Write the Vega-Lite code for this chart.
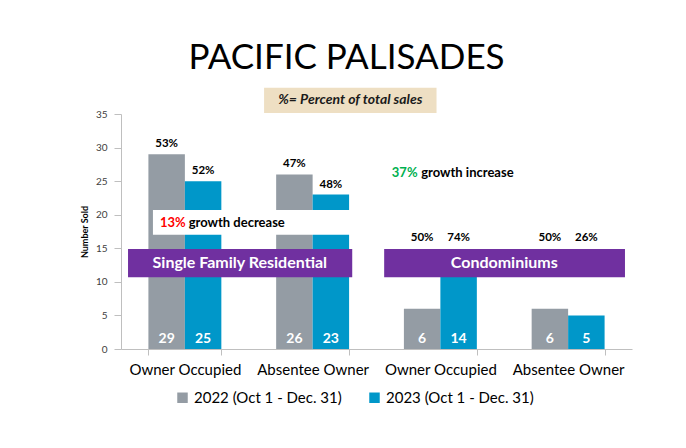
{
  "$schema": "https://vega.github.io/schema/vega-lite/v6.json",
  "width": 511,
  "height": 235,
  "autosize": {"type": "none"},
  "padding": {"left": 121, "top": 114, "right": 54, "bottom": 99},
  "background": "white",
  "config": {
    "font": "Lato",
    "view": {"stroke": null},
    "axisY": {
      "titleFontSize": 9,
      "titleFontWeight": "bold",
      "titleColor": "black",
      "titlePadding": 6,
      "tickCount": 7,
      "labelOverlap": false,
      "labelFlush": false,
      "grid": false,
      "labelFontSize": 10,
      "labelColor": "#404040",
      "labelPadding": 7,
      "tickSize": 7,
      "tickColor": "#bfbfbf",
      "domainColor": "#bfbfbf"
    }
  },
  "title": {
    "text": "PACIFIC PALISADES",
    "font": "Lato",
    "fontSize": 35,
    "fontWeight": "normal",
    "color": "black",
    "anchor": "middle",
    "frame": "group",
    "dx": -30,
    "offset": 12
  },
  "datasets": {
    "bars": [
      {"cat": "SFR|Owner Occupied", "year": "2022 (Oct 1 - Dec. 31)", "n": 29, "pct": "53%"},
      {"cat": "SFR|Owner Occupied", "year": "2023 (Oct 1 - Dec. 31)", "n": 25, "pct": "52%"},
      {"cat": "SFR|Absentee Owner", "year": "2022 (Oct 1 - Dec. 31)", "n": 26, "pct": "47%"},
      {"cat": "SFR|Absentee Owner", "year": "2023 (Oct 1 - Dec. 31)", "n": 23, "pct": "48%"},
      {"cat": "Condo|Owner Occupied", "year": "2022 (Oct 1 - Dec. 31)", "n": 6, "pct": "50%"},
      {"cat": "Condo|Owner Occupied", "year": "2023 (Oct 1 - Dec. 31)", "n": 14, "pct": "74%"},
      {"cat": "Condo|Absentee Owner", "year": "2022 (Oct 1 - Dec. 31)", "n": 6, "pct": "50%"},
      {"cat": "Condo|Absentee Owner", "year": "2023 (Oct 1 - Dec. 31)", "n": 5, "pct": "26%"}
    ],
    "boxes": [
      {"name": "note", "x0": 1.12, "x1": 2.47, "y0": 35.15, "y1": 38.9, "kind": "beige"},
      {"name": "decrease", "x0": 0.25, "x1": 1.8, "y0": 17.0, "y1": 20.7, "kind": "white"},
      {"name": "SFR", "x0": 0.055, "x1": 1.81, "y0": 10.7, "y1": 14.9, "kind": "purple"},
      {"name": "Condo", "x0": 2.06, "x1": 3.945, "y0": 10.7, "y1": 14.9, "kind": "purple"}
    ],
    "bandTitles": [
      {"label": "Single Family Residential", "x": 0.93, "y": 12.8},
      {"label": "Condominiums", "x": 3.0, "y": 12.8}
    ],
    "noteTitle": [
      {"label": "%= Percent of total sales", "x": 1.795, "y": 37.05}
    ],
    "growth": [
      {"label": "13%", "x": 0.305, "y": 18.8, "kind": "red"},
      {"label": "growth decrease", "x": 0.53, "y": 18.8, "kind": "plain"},
      {"label": "37%", "x": 2.12, "y": 26.2, "kind": "green"},
      {"label": "growth increase", "x": 2.35, "y": 26.2, "kind": "plain"}
    ]
  },
  "resolve": {"scale": {"x": "independent", "xOffset": "independent", "color": "independent"}, "axis": {"x": "independent"}},
  "layer": [
    {
      "data": {"name": "bars"},
      "mark": {"type": "bar"},
      "encoding": {
        "x": {
          "field": "cat", "type": "nominal", "sort": null,
          "scale": {"type": "band", "paddingInner": 0.429, "paddingOuter": 0.2145},
          "axis": {
            "title": null,
            "labelExpr": "split(datum.value, '|')[1]",
            "labelAngle": 0,
            "labelFontSize": 15,
            "labelColor": "black",
            "labelPadding": 7,
            "tickBand": "extent",
            "tickSize": 6,
            "tickColor": "#bfbfbf",
            "domainColor": "#bfbfbf"
          }
        },
        "xOffset": {"field": "year", "type": "nominal", "scale": {"type": "band", "paddingInner": 0, "paddingOuter": 0}},
        "y": {
          "field": "n", "type": "quantitative", "title": "Number Sold",
          "scale": {"domain": [0, 35], "nice": false}
        },
        "color": {
          "field": "year", "type": "nominal",
          "scale": {"range": ["#949CA4", "#0097C9"]},
          "legend": {
            "title": null,
            "orient": "none",
            "legendX": 54,
            "legendY": 276,
            "direction": "horizontal",
            "symbolType": "square",
            "symbolSize": 110,
            "symbolStrokeWidth": 0,
            "labelFontSize": 15,
            "labelColor": "black",
            "columnPadding": 25
          }
        }
      }
    },
    {
      "data": {"name": "bars"},
      "mark": {"type": "text", "fontWeight": "bold", "fontSize": 14, "color": "white", "dy": -10, "baseline": "middle", "align": "center"},
      "encoding": {
        "x": {"field": "cat", "type": "nominal", "sort": null, "scale": {"type": "band", "paddingInner": 0.429, "paddingOuter": 0.2145}, "axis": null},
        "xOffset": {"field": "year", "type": "nominal", "scale": {"type": "band", "paddingInner": 0, "paddingOuter": 0}},
        "y": {"datum": 0, "type": "quantitative", "title": "Number Sold"},
        "text": {"field": "n", "type": "quantitative"}
      }
    },
    {
      "data": {"name": "bars"},
      "transform": [{"calculate": "max(datum.n, 15)", "as": "labelAt"}],
      "mark": {"type": "text", "fontWeight": "bold", "fontSize": 11.5, "color": "black", "dy": -10, "baseline": "middle", "align": "center"},
      "encoding": {
        "x": {"field": "cat", "type": "nominal", "sort": null, "scale": {"type": "band", "paddingInner": 0.429, "paddingOuter": 0.2145}, "axis": null},
        "xOffset": {"field": "year", "type": "nominal", "scale": {"type": "band", "paddingInner": 0, "paddingOuter": 0}},
        "y": {"field": "labelAt", "type": "quantitative", "title": "Number Sold"},
        "text": {"field": "pct", "type": "nominal"}
      }
    },
    {
      "data": {"name": "boxes"},
      "mark": {"type": "rect"},
      "encoding": {
        "x": {"field": "x0", "type": "quantitative", "scale": {"domain": [0, 4], "nice": false, "zero": false}, "axis": null},
        "x2": {"field": "x1"},
        "y": {"field": "y0", "type": "quantitative", "title": "Number Sold"},
        "y2": {"field": "y1"},
        "color": {
          "field": "kind", "type": "nominal",
          "scale": {"domain": ["beige", "white", "purple"], "range": ["#EEDFC3", "#FFFFFF", "#7030A0"]},
          "legend": null
        }
      }
    },
    {
      "data": {"name": "bandTitles"},
      "mark": {"type": "text", "fontWeight": "bold", "fontSize": 16, "color": "white", "baseline": "middle", "align": "center"},
      "encoding": {
        "x": {"field": "x", "type": "quantitative", "scale": {"domain": [0, 4], "nice": false, "zero": false}, "axis": null},
        "y": {"field": "y", "type": "quantitative", "title": "Number Sold"},
        "text": {"field": "label", "type": "nominal"}
      }
    },
    {
      "data": {"name": "noteTitle"},
      "mark": {"type": "text", "fontWeight": "bold", "fontStyle": "italic", "fontSize": 14, "color": "#1a1a1a", "baseline": "middle", "align": "center"},
      "encoding": {
        "x": {"field": "x", "type": "quantitative", "scale": {"domain": [0, 4], "nice": false, "zero": false}, "axis": null},
        "y": {"field": "y", "type": "quantitative", "title": "Number Sold"},
        "text": {"field": "label", "type": "nominal"}
      }
    },
    {
      "data": {"name": "growth"},
      "mark": {"type": "text", "fontWeight": "bold", "fontSize": 13, "baseline": "middle", "align": "left"},
      "encoding": {
        "x": {"field": "x", "type": "quantitative", "scale": {"domain": [0, 4], "nice": false, "zero": false}, "axis": null},
        "y": {"field": "y", "type": "quantitative", "title": "Number Sold"},
        "text": {"field": "label", "type": "nominal"},
        "color": {
          "field": "kind", "type": "nominal",
          "scale": {"domain": ["red", "green", "plain"], "range": ["#FF0000", "#00B050", "#000000"]},
          "legend": null
        }
      }
    }
  ]
}
